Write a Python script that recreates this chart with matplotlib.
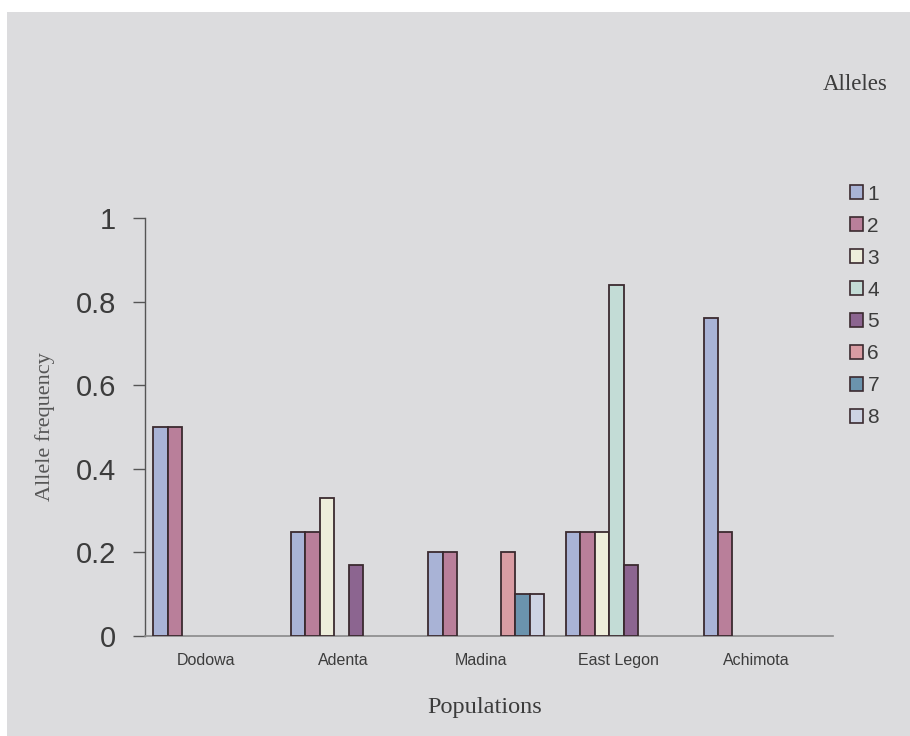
import matplotlib
matplotlib.use("Agg")
import matplotlib.pyplot as plt
import matplotlib.patches as patches
import numpy as np

# populations on the x axis
populations = ["Dodowa", "Adenta", "Madina", "East Legon", "Achimota"]

# allele frequency per population, one list per allele
allele1 = [0.50, 0.25, 0.20, 0.25, 0.76]
allele2 = [0.50, 0.25, 0.20, 0.25, 0.25]
allele3 = [0.00, 0.33, 0.00, 0.25, 0.00]
allele4 = [0.00, 0.00, 0.00, 0.84, 0.00]
allele5 = [0.00, 0.17, 0.00, 0.17, 0.00]
allele6 = [0.00, 0.00, 0.20, 0.00, 0.00]
allele7 = [0.00, 0.00, 0.10, 0.00, 0.00]
allele8 = [0.00, 0.00, 0.10, 0.00, 0.00]
allele_labels = ["1", "2", "3", "4", "5", "6", "7", "8"]

series = [allele1, allele2, allele3, allele4, allele5, allele6, allele7, allele8]
colors = ['#a9b3d6', '#b97f9a', '#eeeedb', '#c3dcd6', '#8c6590', '#d99ca3', '#6b93ad', '#cdd3e3']
edge = '#3b2a2f'
bg = '#dcdcde'
text_col = '#3c3c3c'

fig = plt.figure(figsize=(9.1, 7.36), dpi=100)
fig.patch.set_facecolor('white')
# scanned grey panel behind the chart
fig.patches.append(patches.Rectangle((7 / 910, 0), 1, 1 - 12 / 736, transform=fig.transFigure,
                                     facecolor=bg, edgecolor='none', zorder=-10))

ax = fig.add_axes([145 / 910, 1 - 636 / 736, (833 - 145) / 910, (636 - 218) / 736])
ax.set_facecolor('none')

x = np.arange(len(populations))
n = len(series)
width = 1 / 9.5
for i, vals in enumerate(series):
    vals = np.array(vals)
    keep = vals > 0
    offs = (i - (n - 1) / 2) * width - 0.02
    ax.bar(x[keep] + offs, vals[keep], width=width, color=colors[i],
           edgecolor=edge, linewidth=1.3, zorder=3)

ax.set_xlim(-0.5, len(populations) - 0.5)
ax.set_ylim(0, 1)
ax.set_yticks([0, 0.2, 0.4, 0.6, 0.8, 1])
ax.set_yticklabels(["0", "0.2", "0.4", "0.6", "0.8", "1"])
ax.set_xticks(x - 0.06)
ax.set_xticklabels(populations)

ax.tick_params(axis='y', direction='out', length=9, width=1, color='#555555',
               labelsize=21, labelcolor=text_col, pad=12)
ax.tick_params(axis='x', length=0, labelsize=11.5, labelcolor=text_col, pad=12)
for lab in ax.get_yticklabels() + ax.get_xticklabels():
    lab.set_family('Liberation Sans')

for s in ['top', 'right']:
    ax.spines[s].set_visible(False)
ax.spines['left'].set_color('#555555')
ax.spines['bottom'].set_color('#8a8a8a')
ax.spines['left'].set_linewidth(1)
ax.spines['bottom'].set_linewidth(1.2)

fig.text(45 / 910, 1 - 427 / 736, "Allele frequency", rotation=90, ha='center', va='center',
         fontsize=16, family='Liberation Serif', color='#555555')
fig.text(485 / 910, 1 - 707 / 736, "Populations", ha='center', va='center',
         fontsize=17.5, family='Liberation Serif', color=text_col)
fig.text(855 / 910, 1 - 85 / 736, "Alleles", ha='center', va='center',
         fontsize=16.5, family='Liberation Serif', color=text_col)

handles = [patches.Patch(facecolor=c, edgecolor=edge, linewidth=1.2) for c in colors]
fig.legend(handles, allele_labels, loc='upper left', bbox_to_anchor=(831 / 910, 1 - 166 / 736),
           frameon=False, handlelength=0.65, handleheight=0.65, handletextpad=0.2,
           labelspacing=0.62, prop={'family': 'Liberation Sans', 'size': 15},
           labelcolor=text_col)

fig.savefig('out.png', dpi=100, facecolor=fig.get_facecolor())
